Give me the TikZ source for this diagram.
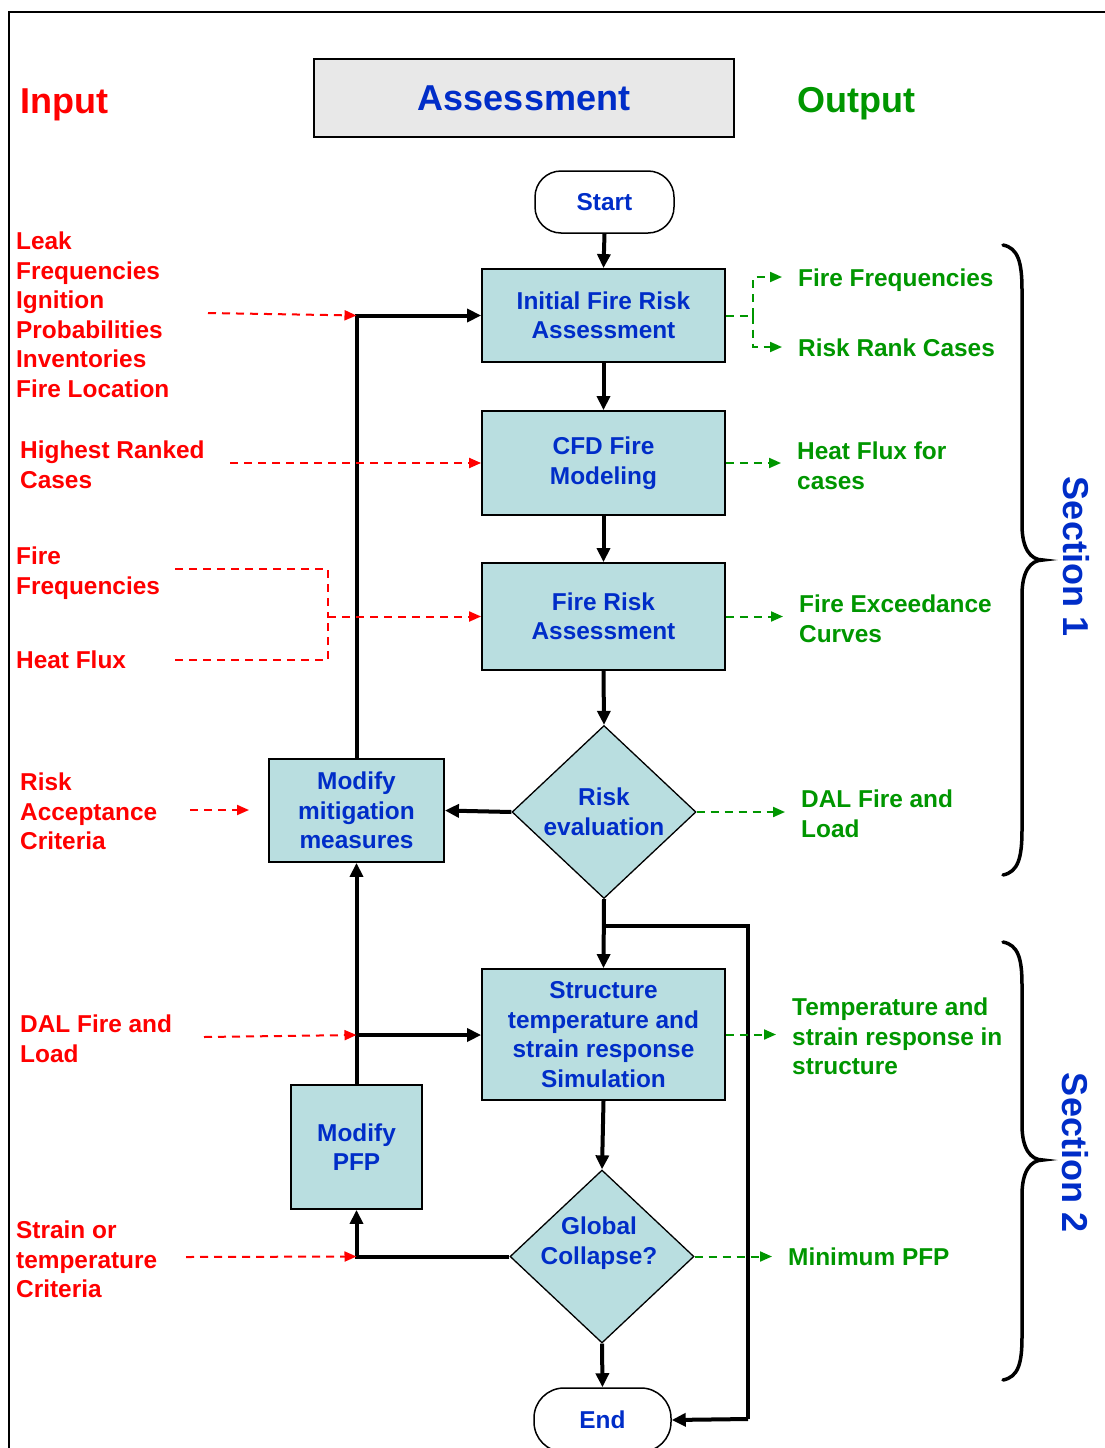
\documentclass[tikz,border=0pt]{standalone}
\usepackage{fontspec}
\setmainfont{Liberation Sans}
\usetikzlibrary{arrows.meta,shapes.geometric}
\definecolor{tblue}{RGB}{0,45,200}
\definecolor{tred}{RGB}{255,0,0}
\definecolor{tgreen}{RGB}{0,150,0}
\definecolor{boxfill}{RGB}{185,222,224}
\definecolor{titlefill}{RGB}{232,232,232}
\begin{document}
\begin{tikzpicture}[x=1pt,y=-1pt,
  every node/.style={font=\fontsize{24.4}{29.5}\selectfont\bfseries, inner sep=0pt},
  bigtext/.style={font=\fontsize{36}{42}\selectfont\bfseries},
  proc/.style={draw, line width=1.8pt, fill=boxfill, text=tblue, align=center},
  decision/.style={diamond, draw, line width=1.3pt, fill=boxfill, text=tblue, align=center,
    minimum width=184pt, minimum height=173pt, aspect=1.07},
  term/.style={draw, line width=1.5pt, rounded corners=26pt, text=tblue, minimum width=139pt, minimum height=62pt},
  inlabel/.style={anchor=north west, align=left, text=tred},
  outlabel/.style={anchor=north west, align=left, text=tgreen},
  flow/.style={line width=4pt, -{Triangle[length=14pt,width=13pt]}},
  flowline/.style={line width=4pt},
  inline/.style={tred, line width=2pt, dash pattern=on 8pt off 6pt},
  inarrow/.style={inline, -{Triangle[length=12pt,width=10pt]}},
  outline/.style={tgreen, line width=2pt, dash pattern=on 8pt off 6pt},
  outarrow/.style={outline, -{Triangle[length=12pt,width=10pt]}},
  bracestyle/.style={line width=3.5pt, line cap=round}
]
\useasboundingbox (0,0) rectangle (1105,1448);
% frame
\draw[line width=2pt] (1105,12) -- (9,12) -- (9,1448);

% header
\node[bigtext, text=tred, anchor=base west] (hin) at (20,113) {Input};
\node[bigtext, text=tgreen, anchor=base west] (hout) at (797,112) {Output};
\node[bigtext, draw, line width=2pt, fill=titlefill, text=tblue, minimum width=420pt, minimum height=78pt] (hass) at (524,98) {Assessment};

% nodes
\node[term] (start) at (604.5,202) {Start};
\node[proc, minimum width=243pt, minimum height=93pt] (ifra) at (603.5,315.5) {Initial Fire Risk\\Assessment};
\node[proc, minimum width=243pt, minimum height=104pt] (cfd) at (603.5,463) {CFD Fire\\Modeling};
\node[proc, minimum width=243pt, minimum height=107pt] (fra) at (603.5,616.5) {Fire Risk\\Assessment};
\node[decision] (riskev) at (604,812) {Risk\\evaluation};
\node[proc, minimum width=175pt, minimum height=103pt] (modmit) at (356.5,810.5) {Modify\\mitigation\\measures};
\node[proc, minimum width=243pt, minimum height=131pt] (struct) at (603.5,1034.5) {Structure\\temperature and\\strain response\\Simulation};
\node[proc, minimum width=131pt, minimum height=124pt] (modpfp) at (356.5,1147) {Modify\\PFP};
\node[decision] (global) at (602,1256.5) {};
\node[text=tblue, align=center] (gtxt) at (599,1243) {Global\\Collapse?};
\node[term, rounded corners=30pt, minimum width=137pt, minimum height=64pt] (endn) at (602.5,1420) {End};

% main flow
\draw[flow] (start.south) -- (ifra.north);
\draw[flow] (ifra) -- (cfd);
\draw[flow] (cfd) -- (fra);
\draw[flow] (fra.south) -- (riskev.north);
\draw[flow] (riskev.west) -- (modmit.east);
\draw[flow] (modmit.north) |- (ifra.west);
\draw[flow] (riskev.south) -- (struct.north);
\coordinate (br) at (604,926);
\coordinate (rc1) at (748,926);
\coordinate (rc2) at (748,1419);
\draw[flowline] (br) -- (rc1) -- (rc2);
\draw[flow] (rc2) -- (endn.east);
\draw[flow] (struct.south) -- (global.north);
\draw[flow] (global.west) -| (modpfp.south);
\draw[flow] (modpfp.north) -- (modmit.south);
\coordinate (jA) at (356.5,315.5);
\coordinate (jB) at (356.5,1035);
\coordinate (jC) at (356.5,1256.5);
\draw[flow] (jB) -- (struct.west |- jB);
\draw[flow] (global.south) -- (endn.north);

% input labels
\node[inlabel] (l1) at (16,232) {Leak\\Frequencies\\Ignition\\Probabilities\\Inventories\\Fire Location};
\node[inlabel] (l2) at (20,441) {Highest Ranked\\Cases};
\node[inlabel] (l3) at (16,547) {Fire\\Frequencies};
\node[inlabel] (l4) at (16,651) {Heat Flux};
\node[inlabel] (l5) at (20,773) {Risk\\Acceptance\\Criteria};
\node[inlabel] (l6) at (20,1015) {DAL Fire and\\Load};
\node[inlabel] (l7) at (16,1221) {Strain or\\temperature\\Criteria};

% input connectors
\coordinate (r1s) at (208,313);
\draw[inarrow] (r1s) -- (jA);
\coordinate (r2s) at (230,463);
\draw[inarrow] (r2s) -- (cfd.west);
\coordinate (r3a) at (175,569);
\coordinate (r3b) at (175,660);
\coordinate (r3m) at (328,616.5);
\draw[inline] (r3a) -| (r3m);
\draw[inline] (r3b) -| (r3m);
\draw[inarrow] (r3m) -- (fra.west);
\coordinate (r4s) at (190,810);
\coordinate (r4e) at (249,810);
\draw[inarrow] (r4s) -- (r4e);
\coordinate (r5s) at (204,1037);
\draw[inarrow] (r5s) -- (jB);
\coordinate (r6s) at (186,1257);
\draw[inarrow] (r6s) -- (jC);

% output labels
\node[outlabel] (o1) at (798,269) {Fire Frequencies};
\node[outlabel] (o2) at (798,339) {Risk Rank Cases};
\node[outlabel] (o3) at (797,442) {Heat Flux for\\cases};
\node[outlabel] (o4) at (799,595) {Fire Exceedance\\Curves};
\node[outlabel] (o5) at (801,790) {DAL Fire and\\Load};
\node[outlabel] (o6) at (792,998) {Temperature and\\strain response in\\structure};
\node[outlabel] (o7) at (788,1248) {Minimum PFP};

% output connectors
\coordinate (g1m) at (753,315.5);
\coordinate (g1t) at (782,277);
\coordinate (g1b) at (782,347);
\draw[outline] (ifra.east) -- (g1m);
\draw[outarrow] (g1m) |- (g1t);
\draw[outarrow] (g1m) |- (g1b);
\coordinate (g2) at (781,463);
\draw[outarrow] (cfd.east) -- (g2);
\coordinate (g3) at (783,616.5);
\draw[outarrow] (fra.east) -- (g3);
\coordinate (g4) at (785,812);
\draw[outarrow] (riskev.east) -- (g4);
\coordinate (g5) at (776,1034.5);
\draw[outarrow] (struct.east) -- (g5);
\coordinate (g6) at (772,1256.5);
\draw[outarrow] (global.east) -- (g6);

% braces
\draw[bracestyle] (1003,245) .. controls (1018,248) and (1022,262) .. (1022,290) -- (1022,525)
  .. controls (1022,548) and (1030,560) .. (1043,560) .. controls (1030,560) and (1022,572) .. (1022,595)
  -- (1022,830) .. controls (1022,858) and (1018,872) .. (1003,875);
\draw[bracestyle] (1003,942) .. controls (1018,945) and (1022,958) .. (1022,985) -- (1022,1125)
  .. controls (1022,1148) and (1030,1160) .. (1043,1160) .. controls (1030,1160) and (1022,1172) .. (1022,1195)
  -- (1022,1337) .. controls (1022,1364) and (1018,1377) .. (1003,1380);
\node[bigtext, text=tblue, rotate=-90] (s1) at (1076,557) {Section 1};
\node[bigtext, text=tblue, rotate=-90] (s2) at (1075,1153) {Section 2};
\end{tikzpicture}
\end{document}
